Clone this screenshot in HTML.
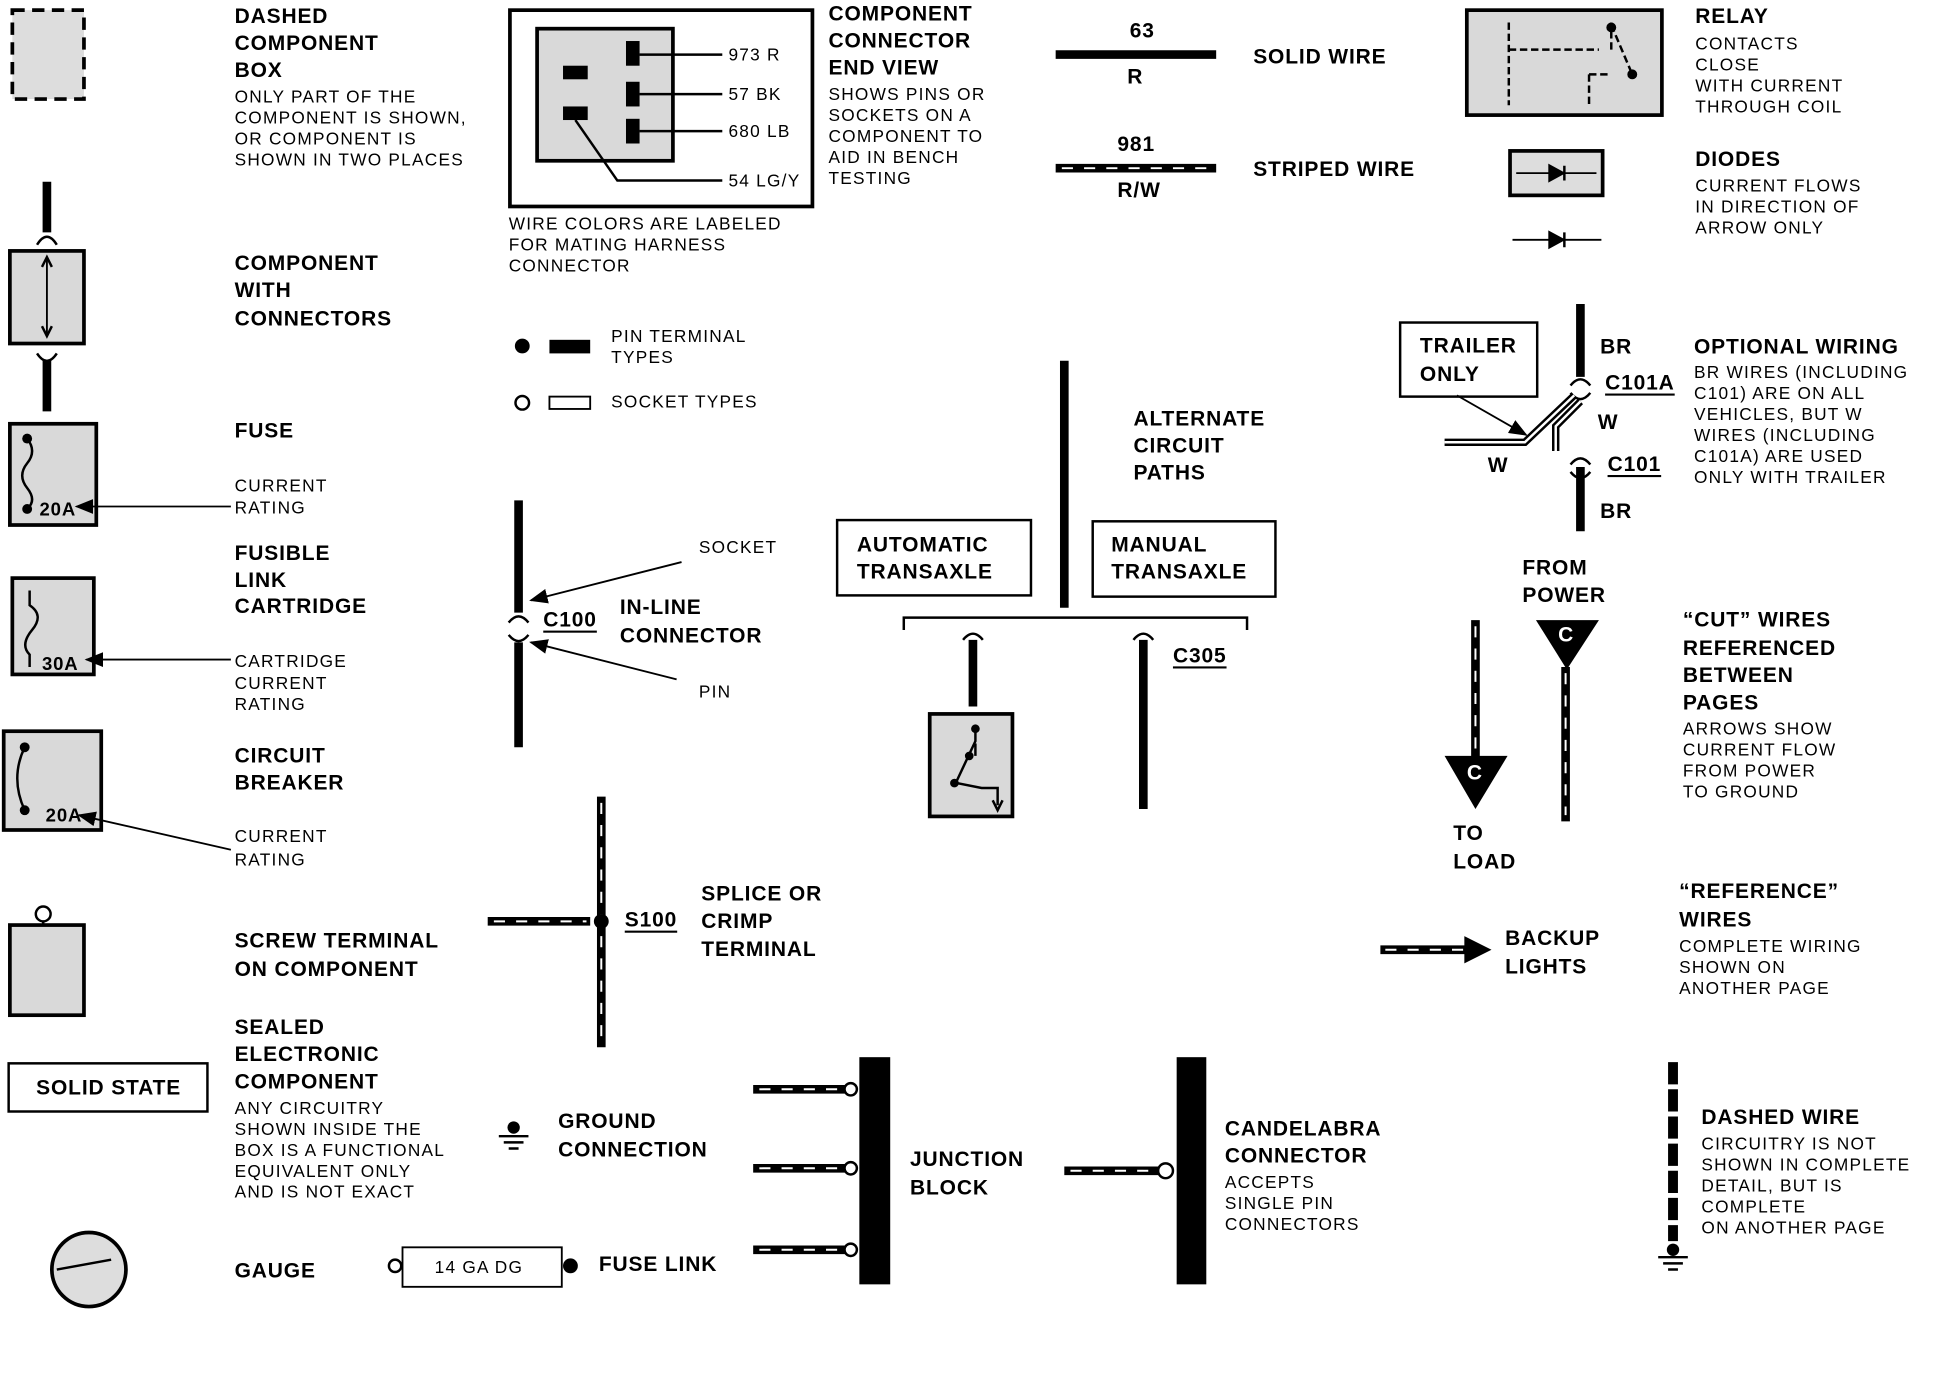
<!DOCTYPE html>
<html><head><meta charset="utf-8"><style>
html,body{margin:0;padding:0;background:#fff;}
svg{display:block;}
text{font-family:"Liberation Sans",sans-serif;fill:#000;dominant-baseline:central;}
.h{font-size:17px;font-weight:bold;letter-spacing:0.7px;}
.s{font-size:14px;font-weight:normal;letter-spacing:1px;}
.w{stroke:#000;stroke-width:7;fill:none;}
.st{stroke:#fff;stroke-width:1.6;stroke-dasharray:9 9;fill:none;}
.b{stroke:#000;stroke-width:2;fill:none;}
.g{fill:#d9d9d9;stroke:#000;stroke-width:3;}
</style></head><body>
<svg width="1936" height="1376" viewBox="0 0 1568 1114" xmlns="http://www.w3.org/2000/svg">
<defs>
<marker id="ar" markerWidth="10" markerHeight="8" refX="9" refY="4" orient="auto"><path d="M0,0 L10,4 L0,8 z" fill="#000"/></marker>
</defs>
<!-- Column 1 -->
<rect x="10" y="8" width="58" height="72" fill="#ddd" stroke="#000" stroke-width="3" stroke-dasharray="10 6"/>
<text class="h" x="190" y="13">DASHED</text><text class="h" x="190" y="35">COMPONENT</text><text class="h" x="190" y="57">BOX</text>
<text class="s" x="190" y="78">ONLY PART OF THE</text><text class="s" x="190" y="95">COMPONENT IS SHOWN,</text><text class="s" x="190" y="112">OR COMPONENT IS</text><text class="s" x="190" y="129">SHOWN IN TWO PLACES</text>

<line class="w" x1="38" y1="147" x2="38" y2="188"/><path d="M30,198 Q38,185 46,198" class="b" stroke-width="3"/>
<rect class="g" x="8" y="203" width="60" height="75"/>
<line x1="38" y1="210" x2="38" y2="272" stroke="#000" stroke-width="1.5"/>
<path d="M34,216 L38,208 L42,216 M34,264 L38,272 L42,264" class="b" stroke-width="1.5"/>
<path d="M30,286 Q38,298 46,286" class="b" stroke-width="3"/><line class="w" x1="38" y1="292" x2="38" y2="333"/>
<text class="h" x="190" y="213">COMPONENT</text><text class="h" x="190" y="235">WITH</text><text class="h" x="190" y="258">CONNECTORS</text>

<rect class="g" x="8" y="343" width="70" height="82"/>
<path d="M22,355 Q30,365 22,375 Q14,385 22,395 Q30,405 22,412" class="b"/>
<circle cx="22" cy="355" r="4"/><circle cx="22" cy="412" r="4"/>
<text class="h" x="32" y="412" style="font-size:15px">20A</text>
<line x1="187" y1="410" x2="62" y2="410" stroke="#000" stroke-width="1.5" marker-end="url(#ar)"/>
<text class="h" x="190" y="349">FUSE</text><text class="s" x="190" y="393">CURRENT</text><text class="s" x="190" y="411">RATING</text>

<rect class="g" x="10" y="468" width="66" height="78"/>
<path d="M24,478 L24,490 Q36,498 26,510 Q16,522 24,530 L24,540" class="b" stroke-width="3"/>
<text class="h" x="34" y="537" style="font-size:15px">30A</text>
<line x1="187" y1="534" x2="70" y2="534" stroke="#000" stroke-width="1.5" marker-end="url(#ar)"/>
<text class="h" x="190" y="448">FUSIBLE</text><text class="h" x="190" y="470">LINK</text><text class="h" x="190" y="491">CARTRIDGE</text>
<text class="s" x="190" y="535">CARTRIDGE</text><text class="s" x="190" y="553">CURRENT</text><text class="s" x="190" y="570">RATING</text>

<rect class="g" x="3" y="592" width="79" height="80"/>
<path d="M20,605 Q8,630 20,656" class="b"/><circle cx="20" cy="605" r="4"/><circle cx="20" cy="656" r="4"/>
<text class="h" x="37" y="660" style="font-size:15px">20A</text>
<line x1="187" y1="688" x2="64" y2="660" stroke="#000" stroke-width="1.5" marker-end="url(#ar)"/>
<text class="h" x="190" y="612">CIRCUIT</text><text class="h" x="190" y="634">BREAKER</text>
<text class="s" x="190" y="677">CURRENT</text><text class="s" x="190" y="696">RATING</text>

<circle cx="35" cy="740" r="6" fill="#fff" stroke="#000" stroke-width="2"/><line x1="35" y1="746" x2="35" y2="750" stroke="#000" stroke-width="2"/>
<rect class="g" x="8" y="749" width="60" height="73"/>
<text class="h" x="190" y="762">SCREW TERMINAL</text><text class="h" x="190" y="785">ON COMPONENT</text>

<rect x="7" y="861" width="161" height="39" fill="#fff" stroke="#000" stroke-width="2"/>
<text class="h" x="88" y="881" text-anchor="middle">SOLID STATE</text>
<text class="h" x="190" y="832">SEALED</text><text class="h" x="190" y="854">ELECTRONIC</text><text class="h" x="190" y="876">COMPONENT</text>
<text class="s" x="190" y="897">ANY CIRCUITRY</text><text class="s" x="190" y="914">SHOWN INSIDE THE</text><text class="s" x="190" y="931">BOX IS A FUNCTIONAL</text><text class="s" x="190" y="948">EQUIVALENT ONLY</text><text class="s" x="190" y="965">AND IS NOT EXACT</text>

<circle cx="72" cy="1028" r="30" fill="#ddd" stroke="#000" stroke-width="3"/>
<line x1="46" y1="1028" x2="90" y2="1020" stroke="#000" stroke-width="2"/>
<text class="h" x="190" y="1029">GAUGE</text>

<!-- Column 2 -->
<rect x="413" y="8" width="245" height="159" fill="#fff" stroke="#000" stroke-width="3"/>
<rect class="g" x="435" y="23" width="110" height="107"/>
<rect x="456" y="53" width="20" height="11"/><rect x="456" y="86" width="20" height="11"/>
<rect x="507" y="33" width="11" height="20"/><rect x="507" y="66" width="11" height="20"/><rect x="507" y="96" width="11" height="20"/>
<path d="M518,44 H585 M518,76 H585 M518,106 H585 M466,97 L500,146 H585" class="b" stroke-width="1.5"/>
<text class="s" x="590" y="44">973 R</text><text class="s" x="590" y="76">57 BK</text><text class="s" x="590" y="106">680 LB</text><text class="s" x="590" y="146">54 LG/Y</text>
<text class="s" x="412" y="181">WIRE COLORS ARE LABELED</text><text class="s" x="412" y="198">FOR MATING HARNESS</text><text class="s" x="412" y="215">CONNECTOR</text>
<text class="h" x="671" y="11">COMPONENT</text><text class="h" x="671" y="33">CONNECTOR</text><text class="h" x="671" y="55">END VIEW</text>
<text class="s" x="671" y="76">SHOWS PINS OR</text><text class="s" x="671" y="93">SOCKETS ON A</text><text class="s" x="671" y="110">COMPONENT TO</text><text class="s" x="671" y="127">AID IN BENCH</text><text class="s" x="671" y="144">TESTING</text>

<circle cx="423" cy="280" r="6"/><rect x="445" y="275" width="33" height="11"/>
<text class="s" x="495" y="272">PIN TERMINAL</text><text class="s" x="495" y="289">TYPES</text>
<circle cx="423" cy="326" r="5.5" fill="#fff" stroke="#000" stroke-width="2"/><rect x="445" y="321" width="33" height="10" fill="#fff" stroke="#000" stroke-width="1.5"/>
<text class="s" x="495" y="325">SOCKET TYPES</text>

<line class="w" x1="420" y1="405" x2="420" y2="496"/><path d="M412,504 Q420,494 428,504 M412,514 Q420,524 428,514" class="b" stroke-width="3"/>
<line class="w" x1="420" y1="520" x2="420" y2="605"/>
<text class="h" x="440" y="502" style="text-decoration:underline">C100</text>
<text class="h" x="502" y="492">IN-LINE</text><text class="h" x="502" y="515">CONNECTOR</text>
<text class="s" x="566" y="443">SOCKET</text><line x1="552" y1="455" x2="430" y2="486" stroke="#000" stroke-width="1.5" marker-end="url(#ar)"/>
<text class="s" x="566" y="560">PIN</text><line x1="548" y1="550" x2="430" y2="520" stroke="#000" stroke-width="1.5" marker-end="url(#ar)"/>

<line class="w" x1="487" y1="645" x2="487" y2="848"/><line class="st" x1="487" y1="650" x2="487" y2="845"/>
<line class="w" x1="395" y1="746" x2="478" y2="746"/><line class="st" x1="400" y1="746" x2="475" y2="746"/>
<circle cx="487" cy="746" r="6"/>
<text class="h" x="506" y="745" style="text-decoration:underline">S100</text>
<text class="h" x="568" y="724">SPLICE OR</text><text class="h" x="568" y="746">CRIMP</text><text class="h" x="568" y="769">TERMINAL</text>

<circle cx="416" cy="913" r="5"/><path d="M404,920 H428 M408,925 H424 M412,930 H420" class="b" stroke-width="1.5"/>
<text class="h" x="452" y="908">GROUND</text><text class="h" x="452" y="931">CONNECTION</text>

<circle cx="320" cy="1025" r="5" fill="#fff" stroke="#000" stroke-width="2"/>
<rect x="326" y="1010" width="129" height="32" fill="#fff" stroke="#000" stroke-width="1.5"/>
<text class="s" x="352" y="1026">14 GA DG</text>
<circle cx="462" cy="1025" r="6"/>
<text class="h" x="485" y="1024">FUSE LINK</text>

<!-- Column 3 -->
<text class="h" x="915" y="25">63</text><line class="w" x1="855" y1="44" x2="985" y2="44"/><text class="h" x="913" y="62">R</text>
<text class="h" x="1015" y="46">SOLID WIRE</text>
<text class="h" x="905" y="117">981</text><line class="w" x1="855" y1="136" x2="985" y2="136"/><line class="st" x1="860" y1="136" x2="980" y2="136"/><text class="h" x="905" y="154">R/W</text>
<text class="h" x="1015" y="137">STRIPED WIRE</text>

<line class="w" x1="862" y1="292" x2="862" y2="492"/>
<text class="h" x="918" y="339">ALTERNATE</text><text class="h" x="918" y="361">CIRCUIT</text><text class="h" x="918" y="383">PATHS</text>
<rect x="678" y="421" width="157" height="61" fill="#fff" stroke="#000" stroke-width="2"/>
<text class="h" x="694" y="441">AUTOMATIC</text><text class="h" x="694" y="463">TRANSAXLE</text>
<rect x="885" y="422" width="148" height="61" fill="#fff" stroke="#000" stroke-width="2"/>
<text class="h" x="900" y="441">MANUAL</text><text class="h" x="900" y="463">TRANSAXLE</text>
<path d="M732,510 V500 H1010 V510" class="b" stroke-width="3"/>
<line class="w" x1="788" y1="518" x2="788" y2="572"/><path d="M780,518 Q788,508 796,518" class="b" stroke-width="3"/>
<rect class="g" x="753" y="578" width="67" height="83"/>
<path d="M790,590 L790,600 L775,632 M790,602 L790,612 M775,634 L795,638 H808 V652 M804,648 L808,656 L812,648" class="b"/>
<circle cx="790" cy="590" r="3.5"/><circle cx="785" cy="612" r="3.5"/><circle cx="773" cy="634" r="3.5"/>
<line class="w" x1="926" y1="518" x2="926" y2="655"/><path d="M918,518 Q926,508 934,518" class="b" stroke-width="3"/>
<text class="h" x="950" y="531" style="text-decoration:underline">C305</text>

<rect x="696" y="856" width="25" height="184"/>
<g><line class="w" x1="610" y1="882" x2="685" y2="882"/><line class="st" x1="615" y1="882" x2="680" y2="882"/><circle cx="689" cy="882" r="5" fill="#fff" stroke="#000" stroke-width="2"/>
<line class="w" x1="610" y1="946" x2="685" y2="946"/><line class="st" x1="615" y1="946" x2="680" y2="946"/><circle cx="689" cy="946" r="5" fill="#fff" stroke="#000" stroke-width="2"/>
<line class="w" x1="610" y1="1012" x2="685" y2="1012"/><line class="st" x1="615" y1="1012" x2="680" y2="1012"/><circle cx="689" cy="1012" r="5" fill="#fff" stroke="#000" stroke-width="2"/></g>
<text class="h" x="737" y="939">JUNCTION</text><text class="h" x="737" y="962">BLOCK</text>
<rect x="953" y="856" width="24" height="184"/>
<line class="w" x1="862" y1="948" x2="938" y2="948"/><line class="st" x1="867" y1="948" x2="933" y2="948"/><circle cx="944" cy="948" r="6" fill="#fff" stroke="#000" stroke-width="2"/>
<text class="h" x="992" y="914">CANDELABRA</text><text class="h" x="992" y="936">CONNECTOR</text>
<text class="s" x="992" y="957">ACCEPTS</text><text class="s" x="992" y="974">SINGLE PIN</text><text class="s" x="992" y="991">CONNECTORS</text>

<!-- Column 4 -->
<rect class="g" x="1188" y="8" width="158" height="85"/>
<path d="M1222,18 V85 M1222,40 H1295 M1305,40 V18 M1305,20 L1322,60 M1287,60 V85 M1287,60 H1305" class="b" stroke-dasharray="6 3"/>
<circle cx="1322" cy="60" r="4"/><circle cx="1305" cy="22" r="4"/>
<text class="h" x="1373" y="13">RELAY</text>
<text class="s" x="1373" y="35">CONTACTS</text><text class="s" x="1373" y="52">CLOSE</text><text class="s" x="1373" y="69">WITH CURRENT</text><text class="s" x="1373" y="86">THROUGH COIL</text>
<rect x="1223" y="122" width="75" height="36" fill="#ddd" stroke="#000" stroke-width="3"/>
<line x1="1228" y1="140" x2="1293" y2="140" stroke="#000" stroke-width="1.5"/><path d="M1255,134 L1266,140 L1255,146 z M1267,134 V146" fill="#000" stroke="#000" stroke-width="2"/>
<line x1="1225" y1="194" x2="1297" y2="194" stroke="#000" stroke-width="1.5"/><path d="M1255,188 L1266,194 L1255,200 z M1267,188 V200" fill="#000" stroke="#000" stroke-width="2"/>
<text class="h" x="1373" y="129">DIODES</text>
<text class="s" x="1373" y="150">CURRENT FLOWS</text><text class="s" x="1373" y="167">IN DIRECTION OF</text><text class="s" x="1373" y="184">ARROW ONLY</text>

<rect x="1134" y="261" width="111" height="60" fill="#fff" stroke="#000" stroke-width="2"/>
<text class="h" x="1150" y="280">TRAILER</text><text class="h" x="1150" y="303">ONLY</text>
<line class="w" x1="1280" y1="246" x2="1280" y2="305"/><path d="M1272,312 Q1280,302 1288,312 M1272,318 Q1280,328 1288,318" class="b" stroke-width="3"/>
<line class="w" x1="1280" y1="378" x2="1280" y2="430"/><path d="M1272,376 Q1280,366 1288,376 M1272,382 Q1280,392 1288,382" class="b" stroke-width="3"/>
<path d="M1280,325 L1260,345 L1260,365 M1170,358 H1235 L1275,320" stroke="#000" stroke-width="6" fill="none"/>
<path d="M1280,325 L1260,345 L1260,365 M1170,358 H1235 L1275,320" stroke="#fff" stroke-width="2" fill="none"/>
<line x1="1180" y1="320" x2="1236" y2="352" stroke="#000" stroke-width="1.5" marker-end="url(#ar)"/>
<text class="h" x="1296" y="281">BR</text><text class="h" x="1300" y="310" style="text-decoration:underline">C101A</text>
<text class="h" x="1294" y="342">W</text><text class="h" x="1302" y="376" style="text-decoration:underline">C101</text>
<text class="h" x="1296" y="414">BR</text><text class="h" x="1205" y="377">W</text>
<text class="h" x="1372" y="281">OPTIONAL WIRING</text>
<text class="s" x="1372" y="301">BR WIRES (INCLUDING</text><text class="s" x="1372" y="318">C101) ARE ON ALL</text><text class="s" x="1372" y="335">VEHICLES, BUT W</text><text class="s" x="1372" y="352">WIRES (INCLUDING</text><text class="s" x="1372" y="369">C101A) ARE USED</text><text class="s" x="1372" y="386">ONLY WITH TRAILER</text>

<text class="h" x="1233" y="460">FROM</text><text class="h" x="1233" y="482">POWER</text>
<path d="M1244,502 H1295 L1269,542 z"/><text class="h" x="1262" y="514" style="fill:#fff">C</text>
<line class="w" x1="1268" y1="540" x2="1268" y2="665"/><line class="st" x1="1268" y1="545" x2="1268" y2="660"/>
<line class="w" x1="1195" y1="502" x2="1195" y2="614"/><line class="st" x1="1195" y1="507" x2="1195" y2="610"/>
<path d="M1170,612 H1221 L1195,655 z"/><text class="h" x="1188" y="626" style="fill:#fff">C</text>
<text class="h" x="1177" y="675">TO</text><text class="h" x="1177" y="698">LOAD</text>
<text class="h" x="1363" y="502">“CUT” WIRES</text><text class="h" x="1363" y="525">REFERENCED</text><text class="h" x="1363" y="547">BETWEEN</text><text class="h" x="1363" y="569">PAGES</text>
<text class="s" x="1363" y="590">ARROWS SHOW</text><text class="s" x="1363" y="607">CURRENT FLOW</text><text class="s" x="1363" y="624">FROM POWER</text><text class="s" x="1363" y="641">TO GROUND</text>

<line class="w" x1="1118" y1="769" x2="1188" y2="769"/><line class="st" x1="1122" y1="769" x2="1185" y2="769"/>
<path d="M1186,758 L1208,769 L1186,780 z"/>
<text class="h" x="1219" y="760">BACKUP</text><text class="h" x="1219" y="783">LIGHTS</text>
<text class="h" x="1360" y="722">“REFERENCE”</text><text class="h" x="1360" y="745">WIRES</text>
<text class="s" x="1360" y="766">COMPLETE WIRING</text><text class="s" x="1360" y="783">SHOWN ON</text><text class="s" x="1360" y="800">ANOTHER PAGE</text>

<line x1="1355" y1="860" x2="1355" y2="1005" stroke="#000" stroke-width="8" stroke-dasharray="18 4"/>
<circle cx="1355" cy="1012" r="5"/><path d="M1343,1018 H1367 M1347,1023 H1363 M1351,1028 H1359" class="b" stroke-width="1.5"/>
<text class="h" x="1378" y="905">DASHED WIRE</text>
<text class="s" x="1378" y="926">CIRCUITRY IS NOT</text><text class="s" x="1378" y="943">SHOWN IN COMPLETE</text><text class="s" x="1378" y="960">DETAIL, BUT IS</text><text class="s" x="1378" y="977">COMPLETE</text><text class="s" x="1378" y="994">ON ANOTHER PAGE</text>
</svg>
</body></html>
